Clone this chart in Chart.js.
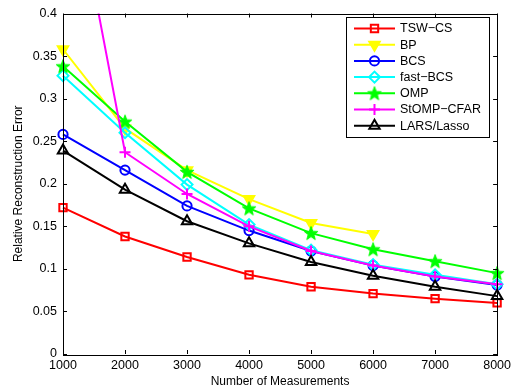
<!DOCTYPE html>
<html>
<head>
<meta charset="utf-8">
<script src="https://cdn.jsdelivr.net/npm/chart.js@4.4.1/dist/chart.umd.min.js"></script>
<style>
  html, body { margin: 0; padding: 0; background: #fff; }
  #wrap { width: 515px; height: 391px; }
</style>
</head>
<body>
<div id="wrap"><canvas id="errChart" width="515" height="391"></canvas></div>
<script>
const measurements = [1000, 2000, 3000, 4000, 5000, 6000, 7000, 8000];
const tswCs     = [0.172, 0.138, 0.114, 0.093, 0.079, 0.071, 0.065, 0.060];
const bp        = [0.358, 0.265, 0.216, 0.182, 0.154, 0.141];
const bcs       = [0.258, 0.216, 0.174, 0.145, 0.121, 0.104, 0.091, 0.081];
const fastBcs   = [0.327, 0.260, 0.199, 0.152, 0.122, 0.105, 0.093, 0.082];
const omp       = [0.338, 0.273, 0.214, 0.171, 0.142, 0.123, 0.109, 0.095];
const stompCfar = [0.620, 0.237, 0.188, 0.150, 0.121, 0.104, 0.091, 0.082];
const larsLasso = [0.239, 0.193, 0.156, 0.130, 0.108, 0.092, 0.079, 0.068];
const xTicks = [1000, 2000, 3000, 4000, 5000, 6000, 7000, 8000];
const yTicks = [0, 0.05, 0.1, 0.15, 0.2, 0.25, 0.3, 0.35, 0.4];

const FONT = 'Liberation Sans, Arial, Helvetica, sans-serif';

// filled five-point star, used as the OMP marker
function makeStar(color) {
    const c = document.createElement('canvas');
    const s = 16;
    c.width = s; c.height = s;
    const g = c.getContext('2d');
    const cx = s / 2, cy = s / 2 + 0.6, ro = 7.2, ri = 3.0;
    g.beginPath();
    for (let i = 0; i < 10; i++) {
        const r = i % 2 === 0 ? ro : ri;
        const a = -Math.PI / 2 + i * Math.PI / 5;
        g.lineTo(cx + r * Math.cos(a), cy + r * Math.sin(a));
    }
    g.closePath();
    g.fillStyle = color;
    g.strokeStyle = color;
    g.lineWidth = 1;
    g.fill();
    g.stroke();
    return c;
}

const series = [
    { label: 'TSW\u2212CS',     data: tswCs,     color: '#ff0000', style: 'rect',     radius: 5.2, fill: 'rgba(0,0,0,0)' },
    { label: 'BP',              data: bp,        color: '#ffff00', style: 'triangle', radius: 6,   fill: '#ffff00', rot: 180 },
    { label: 'BCS',             data: bcs,       color: '#0000ff', style: 'circle',   radius: 4.6, fill: 'rgba(0,0,0,0)' },
    { label: 'fast\u2212BCS',   data: fastBcs,   color: '#00ffff', style: 'rectRot',  radius: 5.5, fill: 'rgba(0,0,0,0)' },
    { label: 'OMP',             data: omp,       color: '#00ff00', style: makeStar('#00ff00'), radius: 7, fill: '#00ff00' },
    { label: 'StOMP\u2212CFAR', data: stompCfar, color: '#ff00ff', style: 'cross',    radius: 5.5, fill: 'rgba(0,0,0,0)' },
    { label: 'LARS/Lasso',      data: larsLasso, color: '#000000', style: 'triangle', radius: 6,   fill: 'rgba(0,0,0,0)' }
];

const datasets = series.map((s, i) => ({
    label: s.label,
    data: s.data.map((v, k) => ({ x: measurements[k], y: v })),
    borderColor: s.color,
    backgroundColor: s.color,
    borderWidth: 2,
    pointStyle: s.style,
    pointRadius: s.radius,
    pointRotation: s.rot || 0,
    pointBorderColor: s.color,
    pointBackgroundColor: s.fill,
    pointBorderWidth: 2,
    tension: 0,
    clip: { left: 12, right: 12, top: 0, bottom: 12 },
    order: series.length - 1 - i
}));

// box around the axes with inward ticks on all four sides
const axesBox = {
    id: 'axesBox',
    afterDatasetsDraw(chart) {
        const { ctx, chartArea: a, scales: { x, y } } = chart;
        ctx.save();
        ctx.strokeStyle = '#000';
        ctx.lineWidth = 1;
        ctx.beginPath();
        xTicks.forEach(t => {
            const px = Math.round(x.getPixelForValue(t)) + 0.5;
            ctx.moveTo(px, a.bottom); ctx.lineTo(px, a.bottom - 4);
            ctx.moveTo(px, a.top); ctx.lineTo(px, a.top + 4);
        });
        yTicks.forEach(t => {
            const py = Math.round(y.getPixelForValue(t)) + 0.5;
            ctx.moveTo(a.left, py); ctx.lineTo(a.left + 4, py);
            ctx.moveTo(a.right, py); ctx.lineTo(a.right - 4, py);
        });
        ctx.stroke();
        ctx.strokeRect(Math.round(a.left) + 0.5, Math.round(a.top) + 0.5,
                       Math.round(a.right - a.left), Math.round(a.bottom - a.top));
        ctx.restore();
    }
};

// boxed legend in the upper right corner
const boxLegend = {
    id: 'boxLegend',
    afterDraw(chart) {
        const { ctx } = chart;
        const bx = 346.5, by = 17.5, bw = 143, bh = 120;
        ctx.save();
        ctx.fillStyle = '#fff';
        ctx.fillRect(bx, by, bw, bh);
        ctx.strokeStyle = '#000';
        ctx.lineWidth = 1;
        ctx.strokeRect(bx, by, bw, bh);
        ctx.font = '12.5px ' + FONT;
        ctx.textBaseline = 'middle';
        chart.data.datasets.forEach((ds, i) => {
            const yy = 28.5 + i * 16.2;
            ctx.strokeStyle = ds.borderColor;
            ctx.lineWidth = 2;
            ctx.beginPath();
            ctx.moveTo(354, yy);
            ctx.lineTo(395, yy);
            ctx.stroke();
            ctx.fillStyle = ds.pointBackgroundColor;
            ctx.strokeStyle = ds.pointBorderColor;
            Chart.helpers.drawPoint(ctx, {
                pointStyle: ds.pointStyle,
                rotation: ds.pointRotation,
                radius: ds.pointRadius,
                borderWidth: ds.pointBorderWidth
            }, 374.5, yy);
            ctx.fillStyle = '#000';
            ctx.fillText(ds.label, 400, yy + 0.5);
        });
        ctx.restore();
    }
};

new Chart(document.getElementById('errChart').getContext('2d'), {
    type: 'line',
    data: { datasets: datasets },
    options: {
        responsive: false,
        animation: false,
        events: [],
        layout: { padding: { top: 11, right: 16, left: 0, bottom: 0 } },
        plugins: {
            legend: { display: false },
            tooltip: { enabled: false }
        },
        scales: {
            x: {
                type: 'linear',
                min: 1000,
                max: 8000,
                afterBuildTicks: s => { s.ticks = xTicks.map(v => ({ value: v })); },
                afterFit: s => { s.height = 37; },
                grid: { display: false, drawTicks: false },
                border: { display: false },
                ticks: {
                    color: '#000',
                    padding: 4,
                    maxRotation: 0,
                    autoSkip: false,
                    font: { family: FONT, size: 12.5 },
                    callback: v => String(v)
                },
                title: {
                    display: true,
                    text: 'Number of Measurements',
                    color: '#000',
                    padding: { top: 0, bottom: 2 },
                    font: { family: FONT, size: 12 }
                }
            },
            y: {
                min: 0,
                max: 0.4,
                afterBuildTicks: s => { s.ticks = yTicks.map(v => ({ value: v })); },
                afterFit: s => { s.width = 63; },
                grid: { display: false, drawTicks: false },
                border: { display: false },
                ticks: {
                    color: '#000',
                    padding: 6,
                    autoSkip: false,
                    font: { family: FONT, size: 12.5 },
                    callback: v => String(+v.toFixed(2))
                },
                title: {
                    display: true,
                    text: 'Relative Reconstruction Error',
                    color: '#000',
                    padding: { top: 11, bottom: 0 },
                    font: { family: FONT, size: 12 }
                }
            }
        }
    },
    plugins: [axesBox, boxLegend]
});
</script>
</body>
</html>
